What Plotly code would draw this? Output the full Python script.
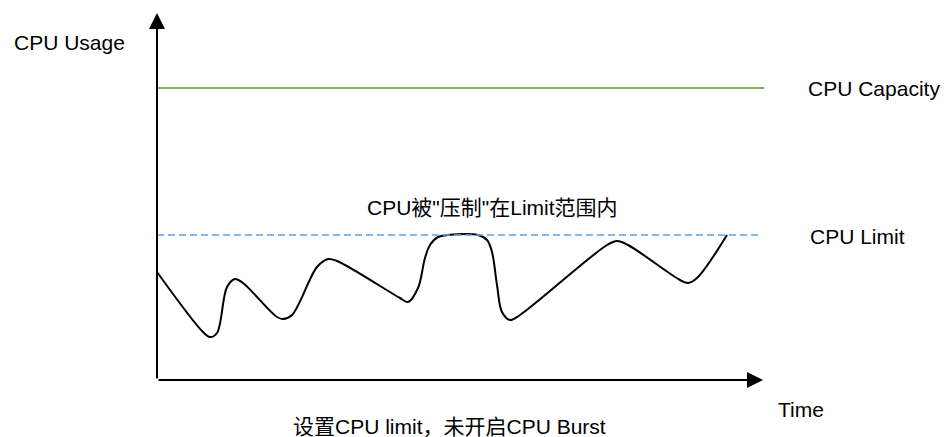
import plotly.graph_objects as go

# ---- data (time units / usage units, origin at the axes corner) ----
time_pts = [0, 46, 53, 60, 70, 78, 86, 120, 126, 135, 160, 171, 180, 243, 251,
            261, 268, 273, 281, 291, 321, 330, 335, 340, 345, 353, 363, 450,
            460, 471, 523, 531, 540, 570]
usage_pts = [108, 48, 43, 47, 93, 101, 97, 63, 61, 65, 113, 121, 119, 82, 78,
             92, 122, 135, 143, 145, 145, 140, 128, 95, 68, 60, 65, 135,
             139, 135, 100, 97, 102, 145]

capacity_value = 292
capacity_span = [0, 607]
limit_value = 145
limit_span = [0, 602]

axis_time_end = 606
axis_usage_end = 367

label_usage = "CPU Usage"
label_capacity = "CPU Capacity"
label_limit = "CPU Limit"
label_time = "Time"
label_throttle = "CPU被\"压制\"在Limit范围内"
label_caption = "设置CPU limit，未开启CPU Burst"

FONT = "Liberation Sans, Arial, Noto Sans CJK SC, sans-serif"

fig = go.Figure()

fig.add_trace(go.Scatter(
    x=capacity_span, y=[capacity_value] * 2, mode="lines",
    line=dict(color="#82b366", width=2), hoverinfo="skip"))

fig.add_trace(go.Scatter(
    x=time_pts, y=usage_pts, mode="lines",
    line=dict(color="#000000", width=2, shape="spline", smoothing=1),
    hoverinfo="skip"))

fig.add_trace(go.Scatter(
    x=limit_span, y=[limit_value] * 2, mode="lines",
    line=dict(color="#5fa2e8", width=1.6, dash="7px,4px"), hoverinfo="skip"))

annotations = []
# axes with arrowheads
annotations.append(dict(x=0, y=axis_usage_end, ax=0, ay=0, axref="x", ayref="y",
                        xref="x", yref="y", text="", showarrow=True,
                        arrowhead=2, arrowsize=1.6, arrowwidth=2, arrowcolor="#000"))
annotations.append(dict(x=axis_time_end, y=0, ax=0, ay=0, axref="x", ayref="y",
                        xref="x", yref="y", text="", showarrow=True,
                        arrowhead=2, arrowsize=1.6, arrowwidth=2, arrowcolor="#000"))

def lab(text, x, y, xanchor="left"):
    return dict(x=x, y=y, xref="x", yref="y", text=text, showarrow=False,
                xanchor=xanchor, yanchor="middle",
                font=dict(family=FONT, size=21, color="#000"))

annotations += [
    lab(label_usage, -145, 338),
    lab(label_capacity, 649, 292),
    lab(label_limit, 651, 144),
    lab(label_throttle, 335, 173, "center"),
    lab(label_time, 619, -29),
    lab(label_caption, 292, -46, "center"),
]

fig.update_layout(
    width=946, height=437,
    margin=dict(l=0, r=0, t=0, b=0),
    paper_bgcolor="white", plot_bgcolor="white",
    showlegend=False,
    xaxis=dict(range=[-157, 789], visible=False, fixedrange=True),
    yaxis=dict(range=[-57, 380], visible=False, fixedrange=True),
    annotations=annotations,
)

fig.write_html(
    "out.html",
    config={"displayModeBar": False},
    post_script="document.body.style.margin='0';document.body.style.padding='0';"
                "document.body.style.overflow='hidden';",
)
